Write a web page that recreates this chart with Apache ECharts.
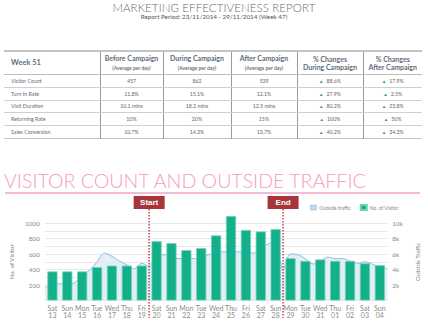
<!DOCTYPE html>
<html><head><meta charset="utf-8">
<script src="https://cdn.jsdelivr.net/npm/echarts@6/dist/echarts.min.js"></script>
<style>
html,body{margin:0;padding:0;width:428px;height:325px;overflow:hidden;background:#fff;font-family:Lato,"Open Sans",sans-serif;}
#chart{position:absolute;left:0;top:0;width:428px;height:325px;}
.abs{position:absolute;}
#title{left:0;width:428px;top:1px;text-align:center;font-size:11.5px;color:#6a6a6a;font-weight:300;letter-spacing:0.1px;line-height:13px;}
#sub{left:0;width:428px;top:13px;text-align:center;font-size:6.3px;color:#555;line-height:8px;}
#tbl{left:4px;top:50px;border-collapse:collapse;table-layout:fixed;border-top:2px solid #c4c4c4;border-bottom:1.5px solid #c4c4c4;}
#tbl td,#tbl th{padding:0;overflow:hidden;white-space:nowrap;}
#tbl th{height:22px;color:#5f6d7a;font-weight:bold;font-size:7px;line-height:8.5px;border-left:1px solid #9a9a9a;border-bottom:1.5px solid #bdbdbd;text-align:center;}
#tbl th:first-child{border-left:none;text-align:left;padding-left:7px;font-size:7.5px;}
#tbl th small{font-size:5px;font-weight:bold;color:#6a7580;}
#tbl td{height:11.8px;font-size:5.3px;color:#666;text-align:center;border-left:1px solid #9a9a9a;border-bottom:1px solid #cfcfcf;}
#tbl td:first-child{border-left:none;text-align:left;padding-left:7px;color:#5f6d7a;}
#tbl tr:last-child td{border-bottom:none;}
.up{color:#2f9a5a;font-size:4.5px;margin-right:3px;}
#pink{left:4px;top:168.5px;font-size:19.6px;color:#f49cc3;font-weight:300;letter-spacing:0px;line-height:23px;}
#pinkline{left:5px;top:192px;width:415px;height:1.5px;background:#f6b9d4;}
</style></head>
<body>
<div id="chart"></div>
<div class="abs" id="title">MARKETING EFFECTIVENESS REPORT</div>
<div class="abs" id="sub">Report Period: 23/11/2014 - 29/11/2014 (Week 47)</div>
<table class="abs" id="tbl"></table>
<div class="abs" id="pink">VISITOR COUNT AND OUTSIDE TRAFFIC</div>
<div class="abs" id="pinkline"></div>
<script>
// ---- table data ----
const weekLabel = 'Week 51';
const columnHeads = [['Before Campaign','(Average per day)'],['During Campaign','(Average per day)'],['After Campaign','(Average per day)'],['% Changes','During Campaign'],['% Changes','After Campaign']];
const metrics = ['Visitor Count','Turn In Rate','Visit Duration','Returning Rate','Sales Conversion'];
const beforeVals = ['457','11.8%','10.1 mins','10%','10.7%'];
const duringVals = ['862','15.1%','18.2 mins','20%','14.3%'];
const afterVals = ['539','12.1%','12.5 mins','15%','13.7%'];
const changeDuring = ['88.6%','27.9%','80.2%','100%','40.2%'];
const changeAfter = ['17.9%','2.5%','23.8%','50%','34.3%'];

// ---- chart data ----
const days = ['Sat 13','Sun 14','Mon 15','Tue 16','Wed 17','Thu 18','Fri 19','Sat 20','Sun 21','Mon 22','Tue 23','Wed 24','Thu 25','Fri 26','Sat 27','Sun 28','Mon 29','Tue 30','Wed 31','Thu 01','Fri 02','Sat 03','Sun 04'];
const visitors = [375,375,375,430,450,450,450,765,740,650,675,840,1090,910,890,920,545,510,530,510,510,480,455];
const outsideTraffic = [1600,2200,2150,2100,2300,3300,3900,5000,6100,5700,5100,4600,4100,4800,4400,5900,5900,5700,5400,5500,5400,5700,5900,6200,6300,6200,6300,6200,6100,6800,7300,7600,4000,6000,5900,5400,4700,5000,5600,5400,5400,5100,4800,5000,4700,4300,4150];
const leftTicks = [200,400,600,800,1000];
const rightTicks = [2000,4000,6000,8000,10000];
const campaignStart = 'Sat 20';
const campaignEnd = 'Sun 28';

// build table
const widths = [96,63,68,66,66,59];
const tbl = document.getElementById('tbl');
let html = '<colgroup>' + widths.map(w => '<col style="width:'+w+'px">').join('') + '</colgroup>';
html += '<tr><th>' + weekLabel + '</th>' + columnHeads.map((h,i) => i < 3 ? '<th>'+h[0]+'<br><small>'+h[1]+'</small></th>' : '<th>'+h[0]+'<br>'+h[1]+'</th>').join('') + '</tr>';
metrics.forEach((m,i) => {
  html += '<tr><td>'+m+'</td><td>'+beforeVals[i]+'</td><td>'+duringVals[i]+'</td><td>'+afterVals[i]+'</td>'
    + '<td><span class="up">▲</span>'+changeDuring[i]+'</td><td><span class="up">▲</span>'+changeAfter[i]+'</td></tr>';
});
tbl.innerHTML = html;

// chart
const chart = echarts.init(document.getElementById('chart'), null, {renderer:'svg'});
const gridTop = 223, gridBottom = 24.5;
const option = {
  animation:false,
  textStyle:{fontFamily:'Lato, "Open Sans", sans-serif'},
  legend:{
    top:199, right:24, itemWidth:6, itemHeight:5, itemGap:9,
    textStyle:{fontSize:5, color:'#888', padding:[0,0,0,-2]},
    data:[
      {name:'Outside traffic', icon:'rect', itemStyle:{color:'#c6dcef', borderColor:'#7fb3e0', borderWidth:0.5}},
      {name:'No. of Visitor', icon:'rect', itemStyle:{color:'#14b08b'}}
    ]
  },
  grid:{left:32, right:27, top:gridTop, bottom:gridBottom, containLabel:false},
  xAxis:[
    {type:'category', data:days, boundaryGap:true,
     axisLine:{show:false}, axisTick:{show:false},
     axisLabel:{fontSize:7, color:'#8c8c8c', lineHeight:7, margin:4, interval:0,
       formatter:v => v.replace(' ','\n')}},
    {type:'category', data:outsideTraffic.map((_,i)=>i), boundaryGap:false, show:false}
  ],
  yAxis:[
    {type:'value', min:0, max:1000, interval:100,
     name:'No. of Visitor', nameLocation:'middle', nameGap:20, nameRotate:90,
     nameTextStyle:{fontSize:6, color:'#888'},
     axisLine:{show:false}, axisTick:{show:false},
     axisLabel:{fontSize:6.5, color:'#8a8a8a', margin:5,
       formatter:v => leftTicks.includes(v) ? String(v) : ''},
     splitLine:{lineStyle:{color:'#e8e8e8', width:1}}},
    {type:'value', min:0, max:10000, interval:1000,
     name:'Outside Traffic', nameLocation:'middle', nameGap:15, nameRotate:90,
     nameTextStyle:{fontSize:6, color:'#888'},
     axisLine:{show:false}, axisTick:{show:false},
     axisLabel:{fontSize:6.5, color:'#8a8a8a', margin:5,
       formatter:v => rightTicks.includes(v) ? (v/1000)+'k' : ''},
     splitLine:{show:false}}
  ],
  series:[
    {name:'Outside traffic', type:'line', xAxisIndex:1, yAxisIndex:1, data:outsideTraffic,
     smooth:0.35, showSymbol:false, z:1,
     lineStyle:{color:'#8cbde6', width:1},
     areaStyle:{color:'#deebf6', opacity:0.85}},
    {name:'No. of Visitor', type:'bar', xAxisIndex:0, yAxisIndex:0, data:visitors,
     barWidth:'68%', clip:false, z:3,
     itemStyle:{color:'#14b08b', borderColor:'#6fd1b4', borderWidth:0.8}}
  ]
};
chart.setOption(option);

function boundaryX(cat, side){
  const idx = days.indexOf(cat);
  const a = chart.convertToPixel({xAxisIndex:0}, days[idx]);
  const b = chart.convertToPixel({xAxisIndex:0}, days[idx + side]);
  return (a + b) / 2;
}
const markers = [{text:'Start', x:boundaryX(campaignStart,-1)},{text:'End', x:boundaryX(campaignEnd,1)}];
const graphics = [];
markers.forEach(m => {
  graphics.push({type:'line', shape:{x1:m.x, y1:209, x2:m.x, y2:318}, z:20,
    style:{stroke:'#c0474b', lineWidth:1.5, lineDash:[1.5,1.5]}});
  graphics.push({type:'rect', shape:{x:m.x-15.5, y:196, width:31, height:13}, z:21,
    style:{fill:'#a8353b'}});
  graphics.push({type:'text', x:m.x, y:202.7, z:22,
    style:{text:m.text, fill:'#fff', font:'bold 8px Arial, "Liberation Sans", sans-serif', textAlign:'center', textVerticalAlign:'middle'}});
});
chart.setOption({graphic:graphics});
</script>
</body></html>
